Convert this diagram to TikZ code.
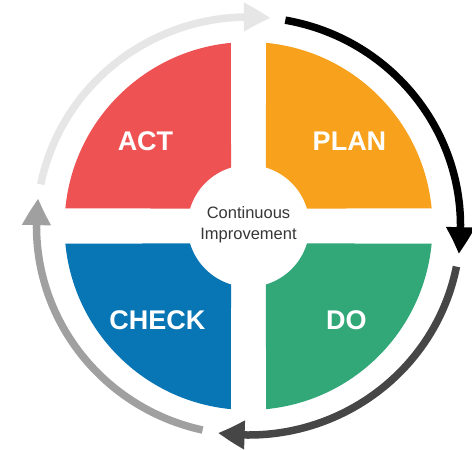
\documentclass[tikz,border=0pt]{standalone}
\usepackage{fontspec}
\setmainfont{Liberation Sans}
\usetikzlibrary{arrows.meta,bending}
\definecolor{actred}{RGB}{238,82,83}
\definecolor{planorange}{RGB}{247,161,28}
\definecolor{dogreen}{RGB}{50,168,121}
\definecolor{checkblue}{RGB}{8,117,180}
\definecolor{ringlight}{RGB}{230,230,230}
\definecolor{ringdark}{RGB}{70,70,70}
\definecolor{ringmid}{RGB}{160,160,160}
\definecolor{centertext}{RGB}{55,55,55}
\begin{document}
\begin{tikzpicture}[x=1pt,y=1pt,
  phase/.style={text=white,font=\fontsize{27}{30}\selectfont\bfseries},
  ringarrow/.style={line width=7.5pt,-{Triangle[width=27pt,length=27pt,bend]}}]
\useasboundingbox (-248.5,-224) rectangle (223.5,226);
\fill[white] (-248.5,-224) rectangle (223.5,226);
\def\Ro{184}
\def\ri{61}
\foreach \rot/\col in {0/actred,-90/planorange,180/dogreen,90/checkblue}{
  \pgfmathsetmacro{\aa}{95.46+\rot}
  \pgfmathsetmacro{\ab}{174.54+\rot}
  \pgfmathsetmacro{\ac}{163.33+\rot}
  \pgfmathsetmacro{\ad}{106.67+\rot}
  \fill[\col] (\aa:\Ro) arc[start angle=\aa,end angle=\ab,radius=\Ro]
    -- (\ac:\ri) arc[start angle=\ac,end angle=\ad,radius=\ri] -- cycle;
}
\node[phase] (act) at (-103,85) {ACT};
\node[phase] (plan) at (101,85) {PLAN};
\node[phase] (check) at (-91,-94) {CHECK};
\node[phase] (do) at (98,-94) {DO};
\node[text=centertext,align=center,font=\fontsize{16.5}{21}\selectfont] (ci) at (0,1) {Continuous\\Improvement};
\draw[ringarrow,ringlight] (168.5:212 and 209) arc[start angle=168.5,end angle=84,x radius=212,y radius=209];
\draw[ringarrow,black] (80:212 and 209) arc[start angle=80,end angle=-7.7,x radius=212,y radius=209];
\draw[ringarrow,ringdark] (-11.2:212 and 209) arc[start angle=-11.2,end angle=-98.3,x radius=212,y radius=209];
\draw[ringarrow,ringmid] (-102.5:212 and 209) arc[start angle=-102.5,end angle=-187.6,x radius=212,y radius=209];
\end{tikzpicture}
\end{document}
